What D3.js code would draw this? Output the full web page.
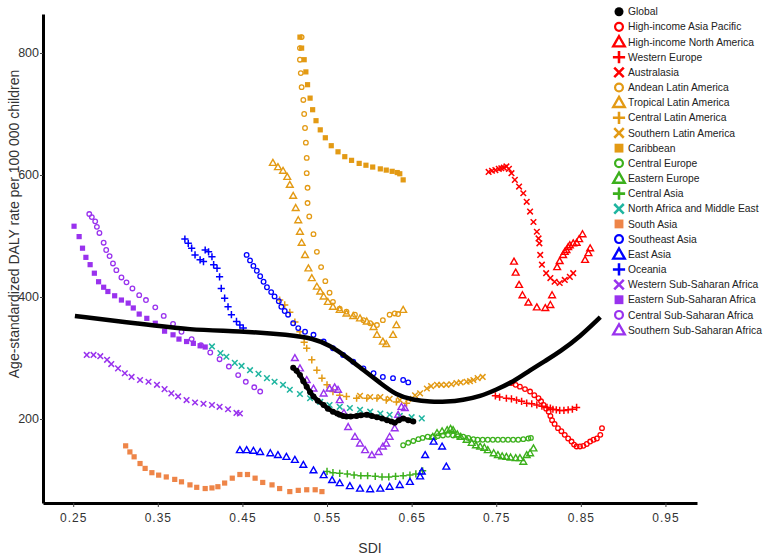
<!DOCTYPE html>
<html><head><meta charset="utf-8">
<script src="https://cdn.jsdelivr.net/npm/d3@7"></script>
<style>body{margin:0;background:#fff}svg{display:block}text{font-family:"Liberation Sans",Arial,sans-serif}</style>
</head><body><svg id="c" width="767" height="556"></svg>
<script>
// ---------- data ----------
const xTicks = [0.25,0.35,0.45,0.55,0.65,0.75,0.85,0.95];
const yTicks = [200,400,600,800];
const regions = ["Global","High-income Asia Pacific","High-income North America","Western Europe","Australasia","Andean Latin America","Tropical Latin America","Central Latin America","Southern Latin America","Caribbean","Central Europe","Eastern Europe","Central Asia","North Africa and Middle East","South Asia","Southeast Asia","East Asia","Oceania","Western Sub-Saharan Africa","Eastern Sub-Saharan Africa","Central Sub-Saharan Africa","Southern Sub-Saharan Africa"];

const expectedSDI = [0.252,0.329,0.388,0.447,0.506,0.534,0.553,0.573,0.593,0.613,0.632,0.652,0.672,0.691,0.711,0.731,0.750,0.770,0.790,0.810,0.825,0.849,0.873];
const expectedVal = [369,356,346,344,338,332,321,302,280,259,239,231,228,228,231,237,248,261,280,297,310,335,367];

const globalSDI = [0.510,0.514,0.518,0.522,0.526,0.530,0.534,0.539,0.546,0.551,0.557,0.562,0.565,0.569,0.573,0.578,0.585,0.590,0.597,0.603,0.609,0.615,0.621,0.626,0.630,0.635,0.640,0.646,0.652];
const globalVal = [284,279,272,262,253,244,237,230,223,217,212,209,207,205,204,204,205,206,207,205,203,201,198,196,194,198,201,198,196];

const hiapSDI = [0.768,0.773,0.778,0.784,0.790,0.795,0.800,0.803,0.806,0.809,0.812,0.814,0.816,0.819,0.823,0.827,0.831,0.835,0.839,0.842,0.845,0.849,0.853,0.857,0.861,0.865,0.869,0.873,0.875];
const hiapVal = [259,256,253,249,245,239,234,229,223,217,212,205,198,192,185,180,174,168,163,158,155,155,156,159,163,166,168,174,185];

const hinaSDI = [0.771,0.773,0.777,0.781,0.788,0.798,0.808,0.814,0.816,0.822,0.825,0.829,0.831,0.833,0.835,0.837,0.841,0.845,0.848,0.852,0.855,0.859,0.861];
const hinaVal = [458,440,420,403,391,383,382,387,403,449,459,469,474,477,482,485,488,489,495,503,461,472,480];

const weSDI = [0.749,0.754,0.762,0.768,0.774,0.780,0.786,0.792,0.798,0.804,0.810,0.814,0.817,0.821,0.825,0.830,0.835,0.840,0.845];
const weVal = [238,236,234,233,231,229,226,225,223,221,219,218,216,215,214,214,215,216,219];

const ausSDI = [0.741,0.745,0.749,0.753,0.756,0.759,0.762,0.765,0.768,0.772,0.777,0.782,0.786,0.790,0.794,0.798,0.800,0.801,0.802,0.804,0.809,0.814,0.819,0.825,0.831,0.837,0.841];
const ausVal = [605,607,608,610,611,612,614,610,603,592,581,570,556,540,523,507,496,488,469,453,439,431,425,423,428,433,439];

const andeanSDI = [0.520,0.518,0.518,0.519,0.520,0.522,0.523,0.524,0.525,0.526,0.526,0.527,0.527,0.529,0.534,0.538,0.543,0.548,0.553,0.557,0.565,0.573,0.583,0.593,0.601,0.609,0.616,0.624,0.630,0.634];
const andeanVal = [826,808,789,767,744,723,700,677,653,628,603,579,554,532,503,474,449,426,407,392,381,376,371,362,357,354,362,371,373,372];

const tropSDI = [0.486,0.492,0.498,0.503,0.506,0.510,0.513,0.516,0.518,0.520,0.524,0.528,0.532,0.538,0.542,0.546,0.551,0.557,0.565,0.573,0.581,0.589,0.597,0.605,0.609,0.616,0.620,0.628,0.632,0.640];
const tropVal = [620,613,607,597,584,566,546,526,507,489,469,447,431,417,409,401,392,384,379,373,369,365,360,351,338,327,323,338,354,379];

const centLaSDI = [0.494,0.500,0.506,0.512,0.518,0.523,0.526,0.532,0.538,0.544,0.550,0.557,0.565,0.573,0.585,0.597,0.609,0.620,0.632,0.644];
const centLaVal = [395,387,375,359,343,326,316,297,280,267,256,245,239,237,234,234,234,231,228,226];

const southLaSDI = [0.589,0.601,0.613,0.624,0.636,0.646,0.654,0.660,0.668,0.673,0.680,0.685,0.691,0.697,0.703,0.708,0.715,0.719,0.723,0.728,0.734];
const southLaVal = [238,236,236,233,231,233,239,242,250,254,256,256,256,257,259,260,261,262,264,267,269];

const caribSDI = [0.518,0.520,0.523,0.525,0.527,0.530,0.533,0.537,0.542,0.548,0.555,0.563,0.571,0.579,0.588,0.596,0.604,0.613,0.620,0.627,0.633,0.636,0.640];
const caribVal = [826,808,789,769,748,726,707,689,674,661,648,638,630,624,619,616,613,610,608,606,604,602,592];

const ceurSDI = [0.640,0.646,0.652,0.658,0.663,0.669,0.675,0.681,0.687,0.693,0.699,0.705,0.711,0.717,0.723,0.728,0.734,0.740,0.746,0.752,0.758,0.764,0.770,0.776,0.782,0.788,0.791];
const ceurVal = [157,161,164,167,169,171,171,172,173,174,173,172,171,169,167,166,166,166,166,166,166,166,166,166,167,168,169];

const eeurSDI = [0.675,0.680,0.686,0.692,0.696,0.699,0.704,0.708,0.715,0.721,0.726,0.731,0.736,0.740,0.747,0.752,0.757,0.762,0.767,0.773,0.778,0.782,0.786,0.790,0.794];
const eeurVal = [171,177,180,182,184,182,175,171,166,161,157,155,153,149,144,141,139,138,137,136,136,130,141,144,152];

const casiaSDI = [0.550,0.557,0.565,0.574,0.582,0.590,0.598,0.607,0.615,0.623,0.631,0.640,0.648,0.655,0.663];
const casiaVal = [114,112,111,110,108,107,107,106,105,105,106,107,108,110,115];

const nameSDI = [0.414,0.424,0.431,0.441,0.449,0.459,0.469,0.479,0.488,0.498,0.506,0.518,0.530,0.542,0.553,0.565,0.577,0.589,0.601,0.613,0.624,0.636,0.650,0.662];
const nameVal = [319,308,302,292,287,280,274,267,261,256,248,241,234,228,223,220,218,215,212,209,207,205,203,201];

const sasiaSDI = [0.312,0.317,0.322,0.329,0.335,0.343,0.351,0.360,0.370,0.378,0.388,0.396,0.406,0.414,0.421,0.429,0.438,0.447,0.456,0.465,0.474,0.485,0.494,0.506,0.516,0.526,0.536,0.544];
const sasiaVal = [156,146,138,127,119,112,108,105,101,97,92,88,86,87,89,95,103,109,109,103,96,92,86,81,83,84,84,81];

const seasiaSDI = [0.455,0.459,0.463,0.467,0.471,0.475,0.479,0.484,0.488,0.493,0.496,0.500,0.504,0.510,0.516,0.524,0.534,0.546,0.557,0.569,0.581,0.593,0.605,0.616,0.628,0.640,0.646];
const seasiaVal = [469,460,451,443,434,425,416,408,401,393,384,377,371,357,349,343,338,327,316,305,294,283,275,269,267,264,260];

const easiaSDI = [0.447,0.455,0.463,0.471,0.483,0.492,0.502,0.512,0.522,0.534,0.546,0.556,0.565,0.577,0.589,0.601,0.613,0.624,0.636,0.648,0.660,0.662,0.666,0.676,0.686,0.691];
const easiaVal = [149,149,148,146,144,141,138,133,125,116,108,100,95,90,86,85,86,89,92,97,106,114,141,163,155,122];

const oceSDI = [0.382,0.386,0.390,0.394,0.400,0.404,0.406,0.410,0.414,0.416,0.420,0.423,0.425,0.429,0.433,0.437,0.443,0.447,0.451];
const oceVal = [495,488,480,469,461,458,477,474,466,453,447,433,414,398,384,371,360,354,349];

const wssaSDI = [0.266,0.274,0.282,0.290,0.295,0.303,0.311,0.319,0.329,0.339,0.349,0.358,0.366,0.374,0.384,0.394,0.404,0.414,0.423,0.433,0.443,0.447];
const wssaVal = [305,305,303,297,290,283,275,269,264,261,256,249,242,237,231,227,225,223,220,216,210,209];

const essaSDI = [0.251,0.257,0.261,0.265,0.270,0.275,0.280,0.286,0.291,0.299,0.307,0.315,0.321,0.328,0.337,0.347,0.358,0.368,0.375,0.384,0.392,0.400,0.406];
const essaVal = [516,499,480,465,453,439,425,416,409,402,395,390,382,372,365,357,344,338,331,327,324,320,318];

const cssaSDI = [0.269,0.272,0.276,0.278,0.281,0.286,0.289,0.293,0.297,0.301,0.307,0.313,0.320,0.328,0.336,0.347,0.357,0.368,0.378,0.390,0.401,0.412,0.423,0.434,0.445,0.454,0.464,0.471];
const cssaVal = [536,531,524,515,505,489,477,467,455,444,432,424,414,403,395,383,369,356,343,331,321,309,298,286,272,261,252,245];

const sssaSDI = [0.512,0.518,0.526,0.534,0.546,0.553,0.559,0.563,0.565,0.570,0.575,0.583,0.589,0.595,0.603,0.611,0.616,0.620,0.624,0.630,0.634,0.638,0.642];
const sssaVal = [300,283,264,250,242,250,252,248,231,210,187,171,160,149,141,146,155,160,171,185,207,220,218];

// ---------- styles ----------
const RED="#ff0000", ORG="#e39a14", GRN="#3cb01c", TEAL="#1fb5a0", CORAL="#ee8548", BLUE="#0000ff", PUR="#9932ee";
const seriesList = [
  {sdi:globalSDI, val:globalVal, color:"#000", shape:"dot"},
  {sdi:hiapSDI, val:hiapVal, color:RED, shape:"circle"},
  {sdi:hinaSDI, val:hinaVal, color:RED, shape:"triangle"},
  {sdi:weSDI, val:weVal, color:RED, shape:"plus"},
  {sdi:ausSDI, val:ausVal, color:RED, shape:"cross"},
  {sdi:andeanSDI, val:andeanVal, color:ORG, shape:"circle"},
  {sdi:tropSDI, val:tropVal, color:ORG, shape:"triangle"},
  {sdi:centLaSDI, val:centLaVal, color:ORG, shape:"plus"},
  {sdi:southLaSDI, val:southLaVal, color:ORG, shape:"cross"},
  {sdi:caribSDI, val:caribVal, color:ORG, shape:"square"},
  {sdi:ceurSDI, val:ceurVal, color:GRN, shape:"circle"},
  {sdi:eeurSDI, val:eeurVal, color:GRN, shape:"triangle"},
  {sdi:casiaSDI, val:casiaVal, color:GRN, shape:"plus"},
  {sdi:nameSDI, val:nameVal, color:TEAL, shape:"cross"},
  {sdi:sasiaSDI, val:sasiaVal, color:CORAL, shape:"square"},
  {sdi:seasiaSDI, val:seasiaVal, color:BLUE, shape:"circle"},
  {sdi:easiaSDI, val:easiaVal, color:BLUE, shape:"triangle"},
  {sdi:oceSDI, val:oceVal, color:BLUE, shape:"plus"},
  {sdi:wssaSDI, val:wssaVal, color:PUR, shape:"cross"},
  {sdi:essaSDI, val:essaVal, color:PUR, shape:"square"},
  {sdi:cssaSDI, val:cssaVal, color:PUR, shape:"circle"},
  {sdi:sssaSDI, val:sssaVal, color:PUR, shape:"triangle"}
];

const svg = d3.select("#c");
const x = d3.scaleLinear().domain([0.2143, 0.9873]).range([43, 697]);
const y = d3.scaleLinear().domain([62.3, 863.9]).range([503, 14]);

function drawMarker(g, shape, color, cx, cy, s) {
  if (shape === "dot") {
    g.append("circle").attr("cx",cx).attr("cy",cy).attr("r",3*s).attr("fill",color);
  } else if (shape === "circle") {
    g.append("circle").attr("cx",cx).attr("cy",cy).attr("r",2.3*s).attr("fill","none").attr("stroke",color).attr("stroke-width",1.3*s);
  } else if (shape === "triangle") {
    const h = 3.4*s;
    g.append("path").attr("d",`M${cx},${cy-h}L${cx+h},${cy+h*0.75}L${cx-h},${cy+h*0.75}Z`).attr("fill","none").attr("stroke",color).attr("stroke-width",1.4*s);
  } else if (shape === "plus") {
    const a = 3.6*s;
    g.append("path").attr("d",`M${cx-a},${cy}H${cx+a}M${cx},${cy-a}V${cy+a}`).attr("stroke",color).attr("stroke-width",1.5*s);
  } else if (shape === "cross") {
    const a = 2.8*s;
    g.append("path").attr("d",`M${cx-a},${cy-a}L${cx+a},${cy+a}M${cx-a},${cy+a}L${cx+a},${cy-a}`).attr("stroke",color).attr("stroke-width",1.5*s);
  } else if (shape === "square") {
    const a = 2.6*s;
    g.append("rect").attr("x",cx-a).attr("y",cy-a).attr("width",2*a).attr("height",2*a).attr("fill",color);
  }
}

// axes
const xAxis = d3.axisBottom(x).tickValues(xTicks).tickFormat(d3.format(".2f")).tickSize(4).tickSizeOuter(0).tickPadding(6);
const gx = svg.append("g").attr("transform","translate(0,503)").call(xAxis);
gx.select(".domain").attr("stroke","#000").attr("stroke-width",3);
gx.selectAll(".tick line").attr("stroke","#444").attr("stroke-width",1);
gx.selectAll(".tick text").attr("font-size",12).attr("fill","#333").attr("letter-spacing","1px");

const yAxis = d3.axisLeft(y).tickValues(yTicks).tickSize(3).tickSizeOuter(0).tickPadding(1);
const gy = svg.append("g").attr("transform","translate(43,0)").call(yAxis);
gy.select(".domain").attr("stroke","#000").attr("stroke-width",3);
gy.selectAll(".tick line").attr("stroke","#444");
gy.selectAll(".tick text").attr("font-size",12.5).attr("fill","#333");

svg.append("text").attr("x",370).attr("y",553).attr("text-anchor","middle").attr("font-size",14).attr("fill","#333").text("SDI");
svg.append("text").attr("transform","translate(19,224) rotate(-90)").attr("text-anchor","middle").attr("font-size",14).attr("fill","#333").text("Age-standardized DALY rate per 100 000 children");

// points
const plot = svg.append("g");
seriesList.forEach((s, i) => {
  if (i === 0) return;
  const g = plot.append("g");
  s.sdi.forEach((v, j) => drawMarker(g, s.shape, s.color, x(v), y(s.val[j]), 1));
});
// expected curve
const line = d3.line().x(d => x(d[0])).y(d => y(d[1])).curve(d3.curveBasis);
plot.append("path").datum(expectedSDI.map((v,i)=>[v, expectedVal[i]])).attr("d", line).attr("fill","none").attr("stroke","#000").attr("stroke-width",4.5);
// global series (dense dots that read as a thick trace)
const gG = plot.append("g");
const gLine = d3.line().x(d => x(d[0])).y(d => y(d[1]));
gG.append("path").datum(globalSDI.map((v,i)=>[v, globalVal[i]])).attr("d", gLine).attr("fill","none").attr("stroke","#000").attr("stroke-width",4.5).attr("stroke-linejoin","round");
globalSDI.forEach((v,j)=>drawMarker(gG,"dot","#000",x(v),y(globalVal[j]),1));

// legend
const lg = svg.append("g");
regions.forEach((name, i) => {
  const cy = 11.7 + i*15.16;
  const s = seriesList[i];
  drawMarker(lg, s.shape, s.color, 619, cy, s.shape==="dot"?1.5:1.7);
  lg.append("text").attr("x",628).attr("y",cy).attr("dy","0.35em").attr("font-size",10.3).attr("fill","#222").text(name);
});
</script></body></html>
